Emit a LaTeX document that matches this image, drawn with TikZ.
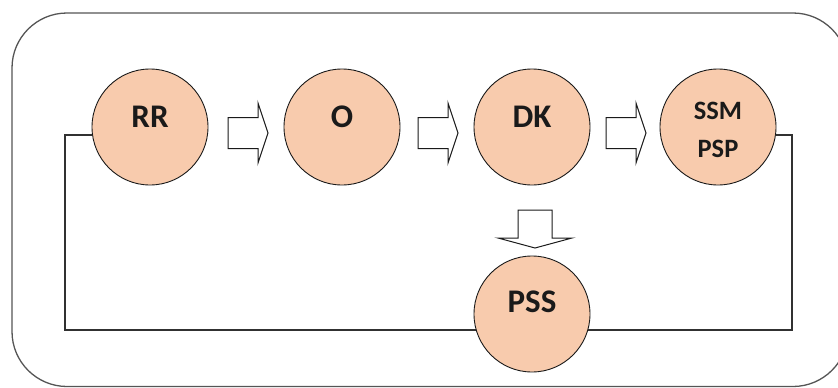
\documentclass[tikz,border=0pt]{standalone}
\usepackage{fontspec}
\setmainfont{Carlito}
\usetikzlibrary{backgrounds}
\definecolor{peach}{HTML}{F8CBAD}
\definecolor{frame}{HTML}{555555}
\definecolor{ink}{HTML}{1A1A1A}
\tikzset{
  circ/.style={circle, minimum size=116pt, inner sep=0pt, fill=peach, draw=ink, line width=0.9pt},
  lbl/.style={font=\bfseries\fontsize{33}{33}\selectfont, text=ink, inner sep=0pt},
  slbl/.style={font=\bfseries\fontsize{26.5}{38}\selectfont, text=ink, inner sep=0pt, align=center},
  blockarrow/.style={draw=ink, fill=white, line width=1pt, line join=miter},
  loopline/.style={draw=ink!90, line width=1.3pt},
  pics/rblock/.style={code={
    \draw[blockarrow] (-20,-15.5) -- (10,-15.5) -- (10,-30) -- (20,0) -- (10,30) -- (10,15.5) -- (-20,15.5) -- cycle;}},
  pics/dblock/.style={code={
    \draw[blockarrow] (-17,-19) -- (17,-19) -- (17,9) -- (37,9) -- (0,19) -- (-37,9) -- (-17,9) -- cycle;}}
}
\begin{document}
\begin{tikzpicture}[x=1pt, y=-1pt]
  \useasboundingbox (0,0) rectangle (838,388);
  % outer rounded frame
  \draw[frame, line width=1.3pt, rounded corners=55pt] (12,13) rectangle (848,386.5);

  % stages
  \node[circ] (RR)  at (150,127) {};
  \node[circ] (O)   at (342,127) {};
  \node[circ] (DK)  at (532,127) {};
  \node[circ] (SSM) at (718,127) {};
  \node[circ] (PSS) at (532,314) {};

  \node[lbl] (tRR) at ([yshift=10pt]RR.center) {RR};
  \node[lbl] (tO)  at ([yshift=10pt]O.center) {O};
  \node[lbl] (tDK) at ([yshift=10pt]DK.center) {DK};
  \node[slbl] (tSSM) at ([yshift=-2.5pt]SSM.center) {SSM\\PSP};
  \node[lbl] (tPSS) at ([yshift=12pt]PSS.center) {PSS};

  % block arrows between stages
  \pic at (248,133) {rblock};
  \pic at (438,133) {rblock};
  \pic at (626,133) {rblock};
  \pic at (535,229) {dblock};

  % feedback loop behind the stages
  \coordinate (lc) at (65,330);
  \coordinate (rc) at (792,330);
  \begin{scope}[on background layer]
    \draw[loopline] (RR.188) -| (lc) -- (rc) |- (SSM.-8);
  \end{scope}
\end{tikzpicture}
\end{document}
